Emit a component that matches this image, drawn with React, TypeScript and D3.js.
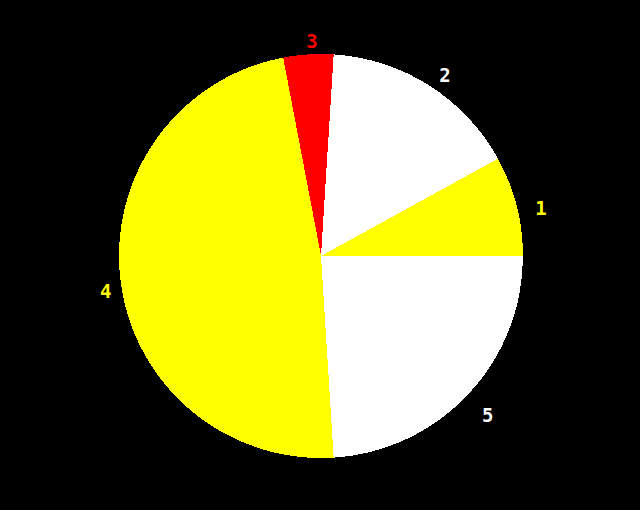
import { useEffect, useRef } from "react"
import * as d3 from "d3"

const labels = ["1", "2", "3", "4", "5"]
const values = [8, 16, 4, 48, 24]
const colors = ["#ffff00", "#ffffff", "#ff0000", "#ffff00", "#ffffff"]

export default function App() {
  const svgRef = useRef<SVGSVGElement | null>(null)

  useEffect(() => {
    document.body.style.margin = "0"
    document.body.style.background = "#000"
    if (!svgRef.current) return

    d3.select(svgRef.current).selectAll("*").remove()

    const width = 640
    const height = 510
    const radius = 202

    const svg = d3.select(svgRef.current)

    svg.append("rect").attr("width", width).attr("height", height).attr("fill", "#000")

    const g = svg.append("g").attr("transform", `translate(321,256)`)

    // counterclockwise from 3 o'clock
    const pie = d3
      .pie<number>()
      .sort(null)
      .startAngle(Math.PI / 2)
      .endAngle(Math.PI / 2 - 2 * Math.PI)

    const arcs = pie(values)
    const arc = d3.arc<d3.PieArcDatum<number>>().innerRadius(0).outerRadius(radius)
    const labelArc = d3.arc<d3.PieArcDatum<number>>().innerRadius(222).outerRadius(222)

    g.selectAll(".slice")
      .data(arcs)
      .enter()
      .append("path")
      .attr("class", "slice")
      .attr("d", arc)
      .attr("fill", (d, i) => colors[i])
      .attr("shape-rendering", "crispEdges")

    // labels sit a little right of and below the arc point
    g.selectAll(".label")
      .data(arcs)
      .enter()
      .append("text")
      .attr("class", "label")
      .attr("x", (d) => labelArc.centroid(d)[0] + 5)
      .attr("y", (d) => labelArc.centroid(d)[1] + 7)
      .attr("dy", "0.36em")
      .attr("text-anchor", "middle")
      .attr("font-family", "DejaVu Sans Mono")
      .attr("font-weight", "bold")
      .attr("font-size", "19px")
      .attr("fill", (d, i) => colors[i])
      .text((d, i) => labels[i])
  }, [])

  return <svg ref={svgRef} width={640} height={510} style={{ display: "block" }}></svg>
}
